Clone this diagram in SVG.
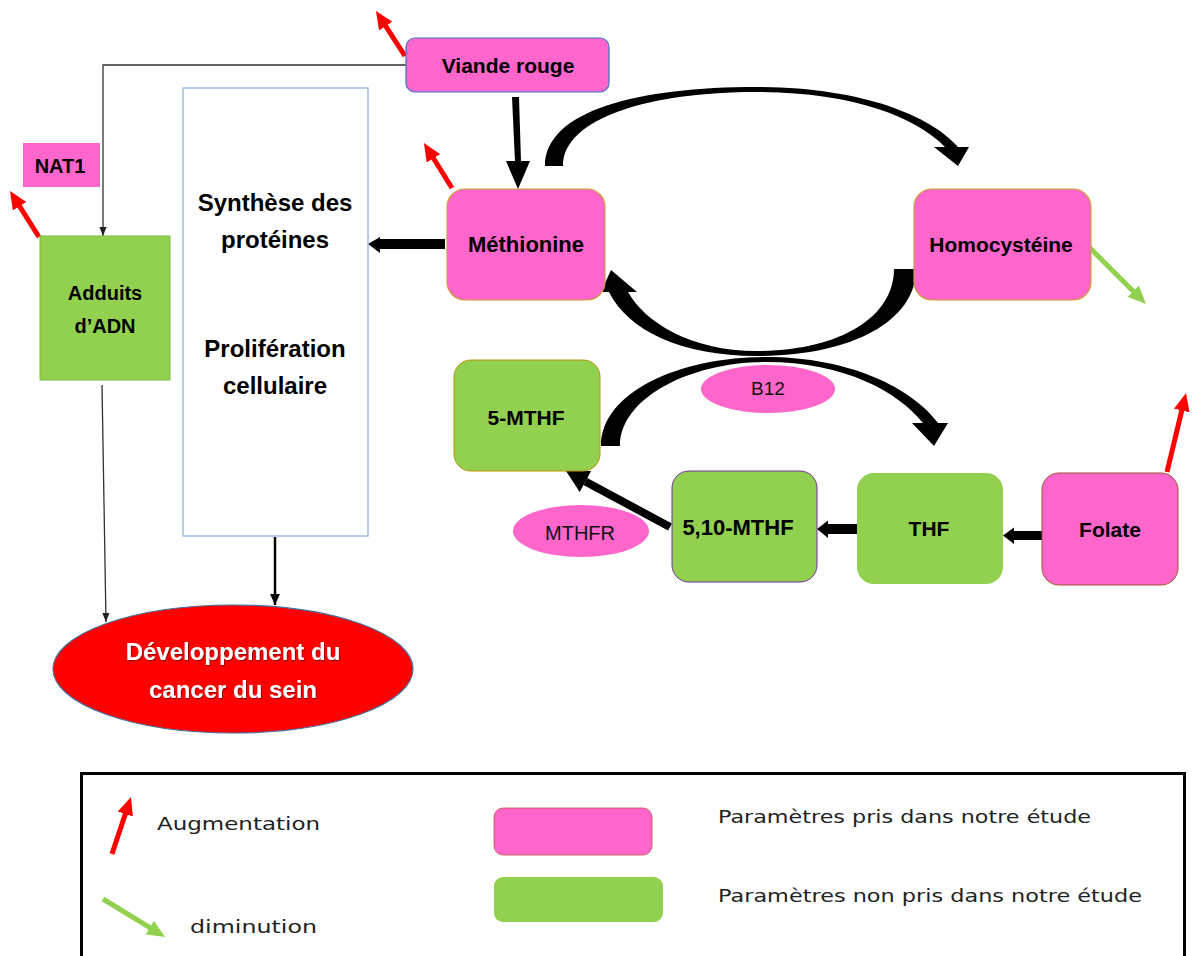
<svg xmlns="http://www.w3.org/2000/svg" width="1192" height="956" viewBox="0 0 1192 956">
<defs>
<style>
.lbl{font-family:"Liberation Sans",Arial,sans-serif;font-weight:bold;fill:#000;text-anchor:middle}
.reg{font-family:"Liberation Sans",Arial,sans-serif;fill:#111;text-anchor:middle}
.leg{font-family:"DejaVu Sans","Liberation Sans",sans-serif;fill:#222;font-size:17px}
.pink{fill:#ff66cc}
.green{fill:#92d050}
.thin{stroke:#333;stroke-width:1.3;fill:none}
.red{stroke:#ff0000;stroke-width:5;fill:none}
.grn{stroke:#92d050;stroke-width:5;fill:none}
</style>
<marker id="mThin" viewBox="0 0 10 10" refX="10" refY="5" markerWidth="9" markerHeight="9" markerUnits="userSpaceOnUse" orient="auto"><path d="M0,1 L10,5 L0,9 z" fill="#222"/></marker>
<marker id="mMed" viewBox="0 0 10 10" refX="10" refY="5" markerWidth="11" markerHeight="11" markerUnits="userSpaceOnUse" orient="auto"><path d="M0,0.5 L10,5 L0,9.5 z" fill="#000"/></marker>
<marker id="mRed" viewBox="0 0 18 16" refX="6" refY="8" markerWidth="18" markerHeight="16" markerUnits="userSpaceOnUse" orient="auto"><path d="M0,0 L18,8 L0,16 z" fill="#ff0000"/></marker>
<marker id="mGrn" viewBox="0 0 18 16" refX="6" refY="8" markerWidth="18" markerHeight="16" markerUnits="userSpaceOnUse" orient="auto"><path d="M0,0 L18,8 L0,16 z" fill="#92d050"/></marker>
<filter id="shadow" x="-10%" y="-10%" width="120%" height="130%"><feDropShadow dx="1" dy="1.2" stdDeviation="0.6" flood-color="#700000" flood-opacity="0.7"/></filter>
</defs>
<rect width="1192" height="956" fill="#ffffff"/>

<g id="connectors">
<polyline class="thin" points="406,65 103,65 103,236" marker-end="url(#mThin)"/>
<line class="thin" x1="102" y1="385" x2="106" y2="622" marker-end="url(#mThin)"/>
<line x1="275" y1="537" x2="275" y2="605" stroke="#000" stroke-width="2.5" marker-end="url(#mMed)"/>
<polygon points="512,97 519,97 521,162 515,162" fill="#000"/>
<polygon points="506,161 530,161 518,189" fill="#000"/>
<polygon points="445,239 378,239 378,249 445,249" fill="#000"/>
<polygon points="368,244 380,237 380,253" fill="#000"/>
<path d="M545,166 C545,110 640,87 756,87 C860,87 930,115 958,147 L969,147 L958,166 L934,147 L945,147 C915,116 850,92 756,92 C650,92 563,118 563,166 Z" fill="#000"/>
<path d="M916,269 C916,322 850,356 757,356 C680,356 628,330 609,292 L601,292 L611,270 L637,292 L628,292 C645,322 690,351 757,351 C838,351 894,318 894,269 Z" fill="#000"/>
<path d="M601,446 C601,392 680,357 766,357 C850,357 912,388 938,423 L948,423 L934,446 L912,423 L923,423 C898,392 845,362 766,362 C690,362 620,398 620,446 Z" fill="#000"/>
<polygon points="671.9,523.5 668.1,530.5 583.5,485 587.3,478" fill="#000"/>
<polygon points="566,471 591.1,470.9 579.7,492.1" fill="#000"/>
<rect x="826" y="524" width="31" height="10" fill="#000"/>
<polygon points="817,529 828,520.5 828,538" fill="#000"/>
<rect x="1012" y="531" width="30" height="9" fill="#000"/>
<polygon points="1003,535.5 1014,527.5 1014,544" fill="#000"/>
<line class="red" x1="405" y1="56" x2="382.5" y2="21.1" marker-end="url(#mRed)"/>
<line class="red" x1="452" y1="188" x2="430.3" y2="153.2" marker-end="url(#mRed)"/>
<line class="red" x1="39" y1="237" x2="16.4" y2="201.2" marker-end="url(#mRed)"/>
<line class="red" x1="1167" y1="472" x2="1183.2" y2="404.7" marker-end="url(#mRed)"/>
<line class="grn" x1="1090" y1="248" x2="1137.5" y2="295.5" marker-end="url(#mGrn)"/>
</g>

<g id="viande">
<rect x="406" y="38" width="203" height="54" rx="9" class="pink" stroke="#4472c4" stroke-width="1.2"/>
<text class="lbl" x="508" y="73" font-size="21">Viande rouge</text>
</g>
<g id="nat1">
<rect x="23" y="143" width="77" height="44" class="pink"/>
<text class="lbl" x="60" y="173" font-size="20">NAT1</text>
</g>
<g id="adduits">
<rect x="40" y="236" width="130" height="144" class="green" stroke="#7fb843" stroke-width="1"/>
<text class="lbl" x="105" y="300" font-size="20">Adduits</text>
<text class="lbl" x="105" y="333" font-size="20">d’ADN</text>
</g>
<g id="synthese">
<rect x="183" y="88" width="185" height="448" fill="#ffffff" stroke="#8fb4e3" stroke-width="1.3"/>
<text class="lbl" x="275" y="211" font-size="24">Synthèse des</text>
<text class="lbl" x="275" y="248" font-size="24">protéines</text>
<text class="lbl" x="275" y="357" font-size="24">Prolifération</text>
<text class="lbl" x="275" y="394" font-size="24">cellulaire</text>
</g>
<g id="cancer">
<ellipse cx="233" cy="669" rx="180" ry="64" fill="#ff0000" stroke="#41719c" stroke-width="1.2"/>
<text class="lbl" x="233" y="660" font-size="24" style="fill:#ffffff" filter="url(#shadow)">Développement du</text>
<text class="lbl" x="233" y="698" font-size="24" style="fill:#ffffff" filter="url(#shadow)">cancer du sein</text>
</g>
<g id="methionine">
<rect x="447" y="189" width="158" height="111" rx="18" class="pink" stroke="#c9a13a" stroke-width="1.2"/>
<text class="lbl" x="526" y="252" font-size="22">Méthionine</text>
</g>
<g id="homocysteine">
<rect x="914" y="189" width="177" height="111" rx="18" class="pink" stroke="#c9a13a" stroke-width="1.2"/>
<text class="lbl" x="1001" y="252" font-size="21">Homocystéine</text>
</g>
<g id="b12">
<ellipse cx="768" cy="389" rx="67" ry="24" class="pink"/>
<text class="reg" x="768" y="395" font-size="19">B12</text>
</g>
<g id="mthf5">
<rect x="454" y="360" width="146" height="111" rx="17" class="green" stroke="#bf9000" stroke-width="1"/>
<text class="lbl" x="526" y="425" font-size="21">5-MTHF</text>
</g>
<g id="mthfr">
<ellipse cx="581" cy="531" rx="68" ry="26" class="pink"/>
<text class="reg" x="580" y="540" font-size="20">MTHFR</text>
</g>
<g id="mthf510">
<rect x="672" y="471" width="145" height="111" rx="17" class="green" stroke="#7030a0" stroke-width="1"/>
<text class="lbl" x="738" y="535" font-size="22">5,10-MTHF</text>
</g>
<g id="thf">
<rect x="857" y="473" width="146" height="111" rx="17" class="green"/>
<text class="lbl" x="929" y="536" font-size="21">THF</text>
</g>
<g id="folate">
<rect x="1042" y="473" width="136" height="112" rx="17" class="pink" stroke="#a0522d" stroke-width="1"/>
<text class="lbl" x="1110" y="537" font-size="21">Folate</text>
</g>

<g id="legend">
<rect x="81.5" y="773.5" width="1103" height="200" fill="#ffffff" stroke="#000" stroke-width="3"/>
<line class="red" stroke-width="4" x1="112" y1="854" x2="127.2" y2="808.4" marker-end="url(#mRed)"/>
<text class="leg" x="157" y="830" textLength="163" lengthAdjust="spacingAndGlyphs">Augmentation</text>
<line class="grn" stroke-width="4" x1="103" y1="899" x2="154.8" y2="930.7" marker-end="url(#mGrn)"/>
<text class="leg" x="190" y="933" textLength="127" lengthAdjust="spacingAndGlyphs">diminution</text>
<rect x="494" y="808" width="158" height="47" rx="9" class="pink" stroke="#c0504d" stroke-width="0.8"/>
<text class="leg" x="718" y="823" textLength="373" lengthAdjust="spacingAndGlyphs">Paramètres pris dans notre étude</text>
<rect x="494" y="877" width="169" height="45" rx="9" class="green"/>
<text class="leg" x="718" y="902" textLength="424" lengthAdjust="spacingAndGlyphs">Paramètres non pris dans notre étude</text>
</g>
</svg>
